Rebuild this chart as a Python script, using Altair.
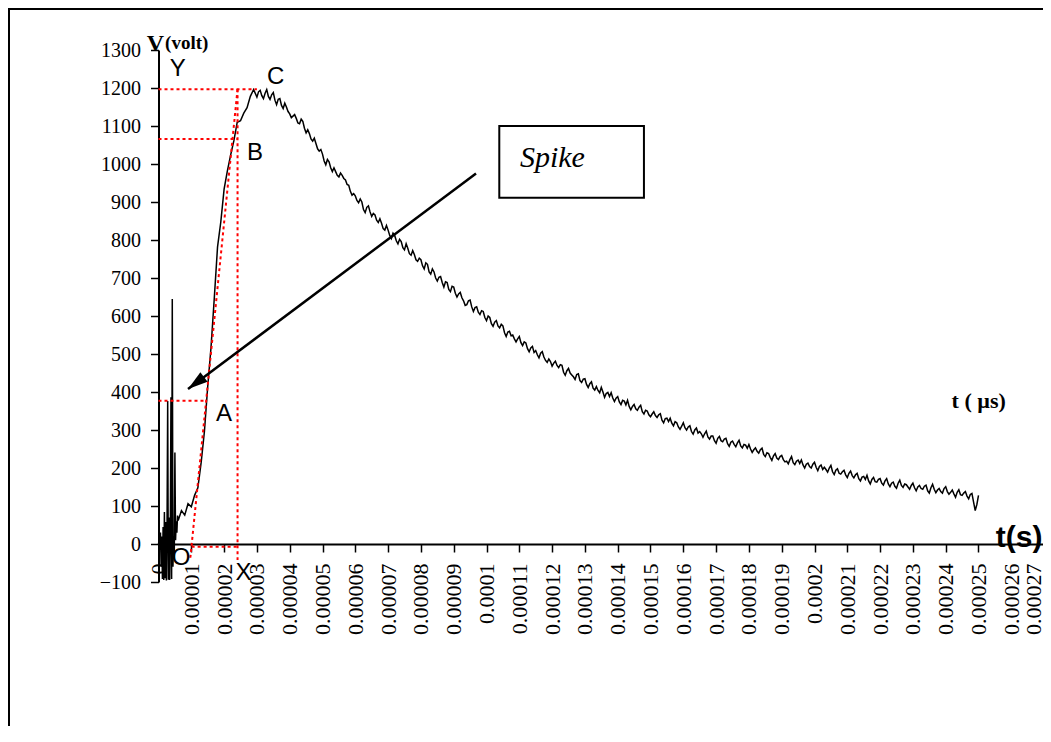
import altair as alt
import pandas as pd

S = 1e-5  # time unit used in the lists below (seconds)

# ---------------- data ----------------
# early spike region (time in 1e-5 s, voltage in V)
spike_t = [0.00, 0.02, 0.04, 0.06, 0.08, 0.10, 0.12, 0.14, 0.16, 0.18,
           0.20, 0.22, 0.24, 0.26, 0.28, 0.30, 0.32, 0.34, 0.36, 0.38,
           0.40, 0.42, 0.44, 0.46, 0.48, 0.50, 0.52, 0.54, 0.56, 0.58]
spike_v = [0, 12, -15, 30, -60, 20, -92, 45, -95, 84,
           -90, 58, -96, 40, 376, -94, 70, -95, 30, 386,
           -92, 645, -60, 20, -40, 241, 10, 60, 30, 75]

# main waveform, sampled every 0.1 (x 1e-5 s) from 0.6 to 25.0
main_t_start = 0.6
main_t_step = 0.1
main_v = [
    62, 88, 76, 106,
    98, 128, 148, 214, 296, 414, 516, 646, 782, 848,
    934, 982, 1024, 1062, 1110, 1114, 1134, 1148, 1178, 1196,
    1176, 1194, 1172, 1196, 1170, 1188, 1156, 1172, 1146, 1150,
    1132, 1126, 1120, 1106, 1112, 1082, 1080, 1060, 1054, 1034,
    1026, 998, 1006, 980, 980, 966, 970, 958, 944, 918,
    916, 898, 900, 872, 890, 862, 866, 846, 844, 826,
    826, 804, 812, 790, 796, 774, 778, 760, 762, 744,
    748, 724, 736, 710, 716, 692, 704, 676, 688, 664,
    676, 650, 662, 640, 630, 642, 612, 624, 604, 612,
    588, 596, 573, 588, 569, 574, 546, 560, 550, 532,
    546, 522, 529, 506, 520, 509, 490, 506, 483, 487,
    468, 481, 464, 470, 444, 462, 445, 433, 448, 425,
    435, 412, 427, 405, 404, 412, 386, 399, 398, 375,
    388, 367, 376, 378, 353, 367, 352, 365, 342, 350,
    335, 348, 333, 343, 319, 331, 331, 311, 319, 302,
    319, 300, 311, 289, 305, 296, 281, 297, 276, 284,
    265, 283, 269, 278, 257, 271, 256, 273, 253, 260,
    262, 241, 253, 239, 252, 230, 238, 220, 238, 222,
    233, 216, 211, 230, 209, 221, 221, 200, 213, 200,
    215, 193, 208, 202, 189, 207, 183, 198, 184, 194,
    175, 192, 174, 186, 166, 178, 181, 158, 175, 163,
    172, 155, 172, 151, 163, 147, 168, 149, 156, 144,
    160, 140, 154, 144, 155, 134, 157, 135, 146, 134,
    151, 131, 142, 123, 143, 128, 138, 119, 133, 88,
    128,
]

# in-between samples of the noisy decay, at 3.05, 3.15, ... 24.95 (x 1e-5 s)
mid_t_start = 3.05
mid_v = [
    1190, 1180, 1186, 1178, 1182, 1168, 1170, 1154, 1160, 1138,
    1122, 1130, 1108, 1118, 1094, 1090, 1066, 1068, 1040, 1038,
    1008, 1012, 990, 990, 970, 976, 962, 946, 928, 922,
    904, 908, 880, 886, 874, 870, 852, 856, 830, 838,
    812, 818, 798, 802, 780, 790, 764, 772, 748, 752,
    732, 740, 716, 724, 700, 702, 688, 690, 670, 678,
    660, 658, 648, 628, 640, 624, 622, 610, 614, 596,
    600, 580, 584, 574, 578, 556, 558, 548, 540, 540,
    530, 532, 514, 516, 504, 498, 502, 492, 478, 480,
    476, 470, 472, 452, 456, 450, 440, 446, 430, 434,
    420, 422, 410, 414, 398, 400, 396, 388, 384, 384,
    374, 378, 366, 362, 362, 356, 360, 348, 352, 340,
    342, 338, 340, 326, 330, 322, 318, 322, 308, 310,
    306, 308, 296, 300, 292, 290, 290, 282, 284, 272,
    278, 272, 276, 264, 268, 262, 266, 258, 262, 252,
    250, 248, 244, 248, 236, 240, 228, 232, 226, 230,
    222, 218, 222, 214, 218, 212, 208, 210, 204, 210,
    202, 204, 196, 196, 200, 190, 194, 186, 190, 182,
    186, 180, 182, 172, 176, 170, 166, 170, 164, 170,
    160, 166, 158, 160, 152, 160, 154, 158, 150, 154,
    148, 150, 146, 152, 140, 148, 144, 142, 138, 146,
    138, 136, 132, 136, 130, 134, 126, 130, 110, 104,
]

x_ticks = [round(i * S, 5) for i in range(28)]
y_ticks = [-100, 0, 100, 200, 300, 400, 500, 600, 700, 800, 900, 1000, 1100, 1200, 1300]

# point labels
letters = ["Y", "C", "B", "A", "O", "X"]
letters_t = [0.59, 3.57, 2.94, 2.00, 0.69, 2.59]
letters_v = [1250, 1229, 1029, 343, -36, -76]

# red dotted construction lines
guide_t1 = [0.00, 2.41, 0.00, 2.41, 1.01, 0.00]
guide_v1 = [1197, 1197, 1066, 1197, -7, 377]
guide_t2 = [3.00, 2.41, 2.41, 0.97, 2.41, 1.47]
guide_v2 = [1197, -42, 1066, -37, -7, 377]

# arrow (tail -> tip) and the "Spike" box
arrow_t = [9.68, 0.90]
arrow_v = [975, 408]
box_t = [10.39, 14.80]
box_v = [1100, 911]

# ---------------- tables ----------------
pts = list(zip(spike_t, spike_v))
pts += [(round(main_t_start + i * main_t_step, 2), v) for i, v in enumerate(main_v)]
pts += [(round(mid_t_start + i * main_t_step, 2), v) for i, v in enumerate(mid_v)]
pts.sort(key=lambda p: p[0])
curve = pd.DataFrame({"t": [p[0] * S for p in pts], "v": [p[1] for p in pts],
                      "i": list(range(len(pts)))})

guides = pd.DataFrame({"t1": [x * S for x in guide_t1], "v1": guide_v1,
                       "t2": [x * S for x in guide_t2], "v2": guide_v2})
arrow = pd.DataFrame({"t1": [arrow_t[0] * S], "v1": [arrow_v[0]],
                      "t2": [arrow_t[1] * S], "v2": [arrow_v[1]]})
tip = pd.DataFrame({"t": [arrow_t[1] * S], "v": [arrow_v[1]]})
box = pd.DataFrame({"t1": [box_t[0] * S], "t2": [box_t[1] * S], "v1": [box_v[0]], "v2": [box_v[1]]})
lab = pd.DataFrame({"t": [x * S for x in letters_t], "v": letters_v, "label": letters})
spike_lab = pd.DataFrame({"t": [11.02 * S], "v": [993], "label": ["Spike"]})
us_lab = pd.DataFrame({"t": [24.18 * S], "v": [358], "label": ["t ( \u00b5s)"]})
ts_lab = pd.DataFrame({"t": [26.95 * S], "v": [-8], "label": ["t(s)"]})
v_lab = pd.DataFrame({"t": [-0.36 * S], "v": [1297], "label": ["V"]})
volt_lab = pd.DataFrame({"t": [0.20 * S], "v": [1303], "label": ["(volt)"]})
frame = pd.DataFrame({"k": [0]})

# ---------------- scales / axes ----------------
W, H = 1035, 718
xs = alt.Scale(domain=[0, 27 * S], range=[150.5, 1036.1], nice=False, zero=False)
ys = alt.Scale(domain=[-100, 1300], range=[574, 42], nice=False, zero=False)

x_axis = alt.Axis(values=x_ticks, format="~g", labelAngle=270, labelFont="Liberation Serif",
                  labelFontSize=22, labelColor="black", labelPadding=11, labelOverlap=False,
                  labelFlush=False, labelBound=False,
                  labelOffset={"condition": {"test": "datum.value > 0.000265", "value": -11}, "value": 0},
                  tickSize=8, tickColor="black", tickWidth=1.5,
                  domainColor="black", domainWidth=2, offset=536 - H, grid=False, title=None)
y_axis = alt.Axis(values=y_ticks, format="d", labelFont="Liberation Serif", labelFontSize=20,
                  labelColor="black", labelPadding=10, labelOverlap=False, labelFlush=False,
                  labelBound=False, tickSize=8, tickColor="black", tickWidth=1.5, domainColor="black",
                  domainWidth=2, offset=-150.5, grid=False, title=None)


def X(f):
    return alt.X(f, type="quantitative", scale=xs, axis=x_axis)


def Y(f):
    return alt.Y(f, type="quantitative", scale=ys, axis=y_axis)


line_layer = alt.Chart(curve).mark_line(color="black", strokeWidth=1.5).encode(
    x=X("t"), y=Y("v"), order="i:Q")

guides_layer = alt.Chart(guides).mark_rule(color="#ff0000", strokeDash=[3, 3], strokeWidth=2).encode(
    x=X("t1"), y=Y("v1"), x2="t2", y2="v2")

arrow_layer = alt.Chart(arrow).mark_rule(color="black", strokeWidth=2.5).encode(
    x=X("t1"), y=Y("v1"), x2="t2", y2="v2")

tip_layer = alt.Chart(tip).mark_point(shape="M0,0L-0.6,2L0.6,2Z", filled=True, color="black",
                                      opacity=1, size=400, angle=233, strokeWidth=0).encode(
    x=X("t"), y=Y("v"))

box_layer = alt.Chart(box).mark_rect(fill="white", stroke="black", strokeWidth=2).encode(
    x=X("t1"), x2="t2", y=Y("v1"), y2="v2")

letters_layer = alt.Chart(lab).mark_text(font="Liberation Sans", fontSize=24, color="black",
                                         align="center", baseline="middle").encode(
    x=X("t"), y=Y("v"), text="label:N")

spike_layer = alt.Chart(spike_lab).mark_text(font="Liberation Serif", fontStyle="italic", fontSize=30,
                                             color="black", align="left", baseline="alphabetic").encode(
    x=X("t"), y=Y("v"), text="label:N")

us_layer = alt.Chart(us_lab).mark_text(font="Liberation Serif", fontWeight="bold", fontSize=22,
                                       color="black", align="left", baseline="alphabetic").encode(
    x=X("t"), y=Y("v"), text="label:N")

ts_layer = alt.Chart(ts_lab).mark_text(font="Liberation Sans", fontWeight="bold", fontSize=30,
                                       color="black", align="right", baseline="alphabetic").encode(
    x=X("t"), y=Y("v"), text="label:N")

v_layer = alt.Chart(v_lab).mark_text(font="Liberation Serif", fontWeight="bold", fontSize=24,
                                     color="black", align="left", baseline="alphabetic").encode(
    x=X("t"), y=Y("v"), text="label:N")

volt_layer = alt.Chart(volt_lab).mark_text(font="Liberation Serif", fontWeight="bold", fontSize=19,
                                           color="black", align="left", baseline="alphabetic").encode(
    x=X("t"), y=Y("v"), text="label:N")

# outer frame (top and left edges; the others lie outside the picture)
frame_top = alt.Chart(frame).mark_rule(color="black", strokeWidth=2).encode(
    x=alt.value(0), x2=alt.value(W), y=alt.value(1))
frame_left = alt.Chart(frame).mark_rule(color="black", strokeWidth=2).encode(
    x=alt.value(1), y=alt.value(0), y2=alt.value(H))

chart = alt.layer(
    line_layer, guides_layer, arrow_layer, tip_layer, box_layer,
    letters_layer, spike_layer, us_layer, ts_layer, v_layer, volt_layer,
    frame_top, frame_left,
).properties(
    width=W, height=H, padding=0, background="white",
    autosize=alt.AutoSizeParams(type="none"),
).configure_view(strokeWidth=0, stroke=None)

chart.save("out.html", embed_options={"renderer": "svg", "actions": False})
